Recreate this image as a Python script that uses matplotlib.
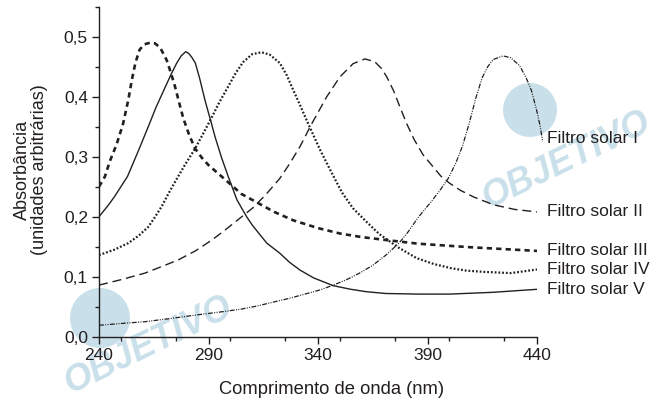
import matplotlib
matplotlib.use("Agg")
import matplotlib.pyplot as plt
from matplotlib.ticker import MultipleLocator, FuncFormatter
from matplotlib.patches import Ellipse

plt.rcParams['font.family'] = ['Liberation Sans', 'DejaVu Sans']
plt.rcParams['lines.scale_dashes'] = False

# ---- data ----
wl_I = [240, 250, 261, 272, 284, 295, 305, 312, 320, 327, 335, 341, 347, 353, 359, 365,
        371, 377, 381, 386, 391, 395.5, 399.5, 403, 406, 409, 412, 415, 417.5, 420,
        424.5, 428, 432, 435, 437.5, 440, 441.5, 442.6]
abs_I = [0.019, 0.022, 0.025, 0.030, 0.036, 0.041, 0.046, 0.051, 0.058, 0.064, 0.072,
         0.078, 0.086, 0.095, 0.106, 0.119, 0.136, 0.156, 0.174, 0.200, 0.222, 0.243,
         0.264, 0.290, 0.318, 0.355, 0.397, 0.432, 0.450, 0.462, 0.468, 0.465, 0.452,
         0.432, 0.410, 0.375, 0.350, 0.325]

wl_II = [240, 250, 261, 268, 276.2, 284, 291.5, 298, 305.2, 310, 316, 322.6, 327, 331.8,
         337, 344, 350, 356, 361.5, 366, 369, 371.4, 374.5, 377.4, 380.5, 384, 388,
         392.6, 396, 400, 405, 411, 420, 430, 440]
abs_II = [0.086, 0.095, 0.106, 0.116, 0.128, 0.143, 0.161, 0.179, 0.200, 0.214, 0.236,
          0.264, 0.288, 0.317, 0.354, 0.400, 0.433, 0.455, 0.463, 0.458, 0.447, 0.433,
          0.410, 0.383, 0.355, 0.328, 0.303, 0.283, 0.268, 0.256, 0.244, 0.233, 0.220,
          0.212, 0.208]

wl_III = [240, 242.7, 245, 248, 251, 253.4, 255, 256.6, 258.5, 260.5, 263.3, 265.5,
          267.9, 270.9, 272.8, 274.7, 276.6, 278.5, 281, 283.8, 287, 290, 296, 305, 313,
          320, 328.7, 340, 350, 360, 371.4, 385.8, 410, 440]
abs_III = [0.250, 0.267, 0.293, 0.320, 0.355, 0.395, 0.428, 0.456, 0.478, 0.487, 0.490,
           0.489, 0.482, 0.461, 0.440, 0.417, 0.390, 0.364, 0.338, 0.314, 0.298, 0.286,
           0.267, 0.238, 0.222, 0.208, 0.194, 0.181, 0.172, 0.166, 0.161, 0.155, 0.149,
           0.143]

wl_IV = [240, 247, 253.4, 258, 262.5, 265.5, 268.6, 271.5, 274.7, 279, 283.8, 287.5,
         291.4, 295, 299, 302.5, 305.9, 310, 314.3, 318, 322.6, 325.7, 328.7, 331.8,
         334.8, 338, 341, 346, 351, 356, 362, 368, 377, 385, 393, 401, 408, 416, 428, 440]
abs_IV = [0.136, 0.145, 0.156, 0.168, 0.183, 0.199, 0.217, 0.237, 0.258, 0.285, 0.313,
          0.338, 0.365, 0.391, 0.417, 0.440, 0.458, 0.471, 0.474, 0.470, 0.456, 0.436,
          0.411, 0.386, 0.361, 0.335, 0.311, 0.275, 0.240, 0.214, 0.192, 0.171, 0.148,
          0.131, 0.121, 0.114, 0.110, 0.108, 0.106, 0.112]

wl_V = [240, 244, 247, 250, 253, 258, 262.5, 266, 270, 273, 275.5, 277.5, 279.6, 281,
        282.5, 284, 286, 288.4, 291, 293, 296, 299, 303, 307.4, 310, 313.5, 316.6,
        322.6, 327, 331.8, 338, 347, 355, 362, 371, 386, 400, 420, 440]
abs_V = [0.200, 0.218, 0.233, 0.250, 0.267, 0.310, 0.350, 0.382, 0.414, 0.438, 0.456,
         0.468, 0.475, 0.472, 0.465, 0.456, 0.430, 0.394, 0.360, 0.333, 0.298, 0.267,
         0.228, 0.200, 0.186, 0.170, 0.156, 0.139, 0.124, 0.111, 0.098, 0.085, 0.079,
         0.075, 0.072, 0.071, 0.071, 0.074, 0.079]

series_names = ["Filtro solar I", "Filtro solar II", "Filtro solar III",
                "Filtro solar IV", "Filtro solar V"]
x_ticks = [240, 290, 340, 390, 440]
y_ticks = [0.0, 0.1, 0.2, 0.3, 0.4, 0.5]

# ---- layout / style ----
label_y = [0.331, 0.2083, 0.143, 0.112, 0.079]
ink = '#231f20'
wm_color = '#c9e0ea'

fig = plt.figure(figsize=(6.6, 4.04), dpi=100)
ax = fig.add_axes([99/660, 1 - 336.7/404, (537 - 99)/660, 330/404])
ax.patch.set_alpha(0)

# watermark (drawn behind the axes)
wm_kw = dict(color=wm_color, fontsize=26, fontweight='bold', style='italic',
             rotation=26, ha='center', va='center', zorder=-2)
fig.text(566/660, 1 - 160/404, "OBJETIVO", **wm_kw)
fig.text(148/660, 1 - 345/404, "OBJETIVO", **wm_kw)
for cx, cy, r in [(530, 110, 27), (100, 318, 30)]:
    fig.patches.append(Ellipse((cx/660, 1 - cy/404), 2*r/660, 2*r/404,
                               transform=fig.transFigure, facecolor=wm_color,
                               edgecolor='none', zorder=-2))

ax.plot(wl_I, abs_I, color=ink, lw=0.9, dashes=(3.5, 1.0, 0.7, 1.0, 0.7, 1.0),
        clip_on=False)
ax.plot(wl_II, abs_II, color=ink, lw=1.0, dashes=(6.5, 3.5))
ax.plot(wl_III, abs_III, color=ink, lw=1.9, dashes=(3.8, 3.0))
ax.plot(wl_IV, abs_IV, color=ink, lw=1.6, dashes=(1.3, 1.4))
ax.plot(wl_V, abs_V, color=ink, lw=1.0)

for name, yv in zip(series_names, label_y):
    ax.text(444.4, yv, name, fontsize=12.5, color=ink, ha='left', va='center',
            clip_on=False)

ax.set_xlim(240, 440)
ax.set_ylim(0, 0.55)
ax.set_xticks(x_ticks)
ax.set_yticks(y_ticks)
ax.xaxis.set_minor_locator(MultipleLocator(25))
ax.yaxis.set_minor_locator(MultipleLocator(0.05))
ax.yaxis.set_major_formatter(FuncFormatter(lambda v, p: f"{v:.1f}".replace('.', ',')))
ax.xaxis.set_major_formatter(FuncFormatter(lambda v, p: f"{v:.0f}"))

for s in ['top', 'right']:
    ax.spines[s].set_visible(False)
for s in ['left', 'bottom']:
    ax.spines[s].set_linewidth(1.0)
    ax.spines[s].set_color(ink)

ax.tick_params(which='major', direction='out', length=5, width=1.0, color=ink,
               labelsize=12.5, labelcolor=ink, pad=3)
ax.tick_params(which='minor', direction='out', length=3, width=1.0, color=ink)

fig.text(332/660, 1 - 390/404, "Comprimento de onda (nm)", ha='center', va='center',
         fontsize=13.2, color=ink)
fig.text(31/660, 1 - 170/404, "Absorbância\n(unidades arbitrárias)", rotation=90,
         ha='center', va='center', multialignment='center', fontsize=13, color=ink,
         linespacing=1.05)

fig.savefig("out.png", dpi=100)
